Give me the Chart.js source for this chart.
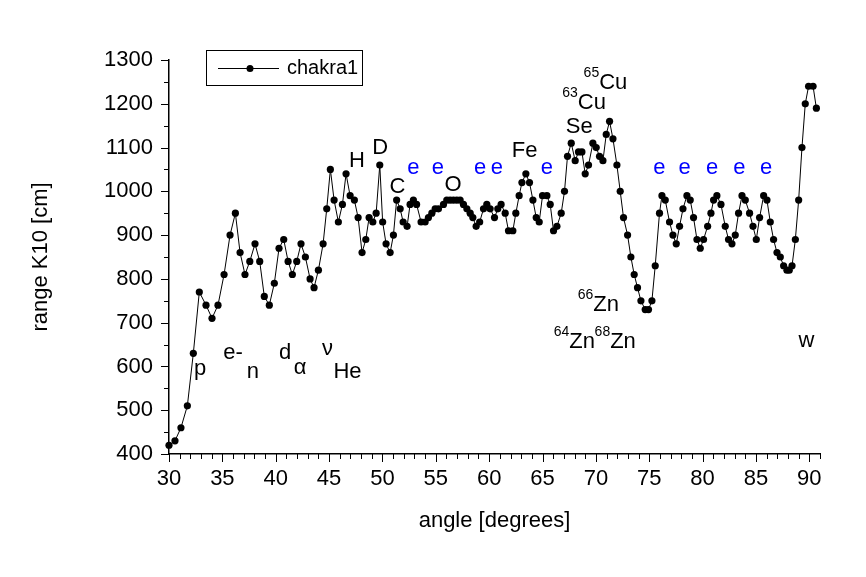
<!DOCTYPE html>
<html><head><meta charset="utf-8">
<script src="https://cdn.jsdelivr.net/npm/chart.js@4"></script>
<style>html,body{margin:0;padding:0;background:#fff}</style>
</head><body>
<canvas id="c" width="866" height="577"></canvas>
<script>
const angles = [
  30.00, 30.56, 31.12, 31.72, 32.28, 32.84, 33.47, 34.03, 34.59, 35.16,
  35.72, 36.22, 36.66, 37.12, 37.57, 38.06, 38.50, 38.93, 39.40, 39.87,
  40.31, 40.75, 41.16, 41.56, 41.97, 42.37, 42.78, 43.22, 43.59, 44.00,
  44.44, 44.78, 45.12, 45.47, 45.87, 46.25, 46.59, 46.97, 47.37, 47.72,
  48.09, 48.44, 48.75, 49.10, 49.41, 49.75, 50.02, 50.34, 50.72, 51.03,
  51.33, 51.66, 51.94, 52.31, 52.59, 52.90, 53.20, 53.62, 54.00, 54.31,
  54.63, 54.94, 55.25, 55.72, 56.03, 56.34, 56.65, 56.97, 57.28, 57.59,
  57.91, 58.22, 58.47, 58.78, 59.11, 59.47, 59.78, 60.09, 60.50, 60.81,
  61.12, 61.50, 61.81, 62.22, 62.50, 62.81, 63.07, 63.44, 63.78, 64.10,
  64.41, 64.69, 65.00, 65.41, 65.72, 66.03, 66.35, 66.75, 67.06, 67.34,
  67.69, 68.06, 68.37, 68.69, 69.00, 69.31, 69.72, 70.03, 70.34, 70.66,
  70.97, 71.28, 71.60, 71.97, 72.28, 72.59, 72.97, 73.28, 73.59, 73.90,
  74.22, 74.62, 74.93, 75.25, 75.56, 75.96, 76.19, 76.50, 76.90, 77.22,
  77.53, 77.84, 78.16, 78.53, 78.84, 79.15, 79.47, 79.78, 80.09, 80.47,
  80.78, 81.03, 81.34, 81.72, 82.12, 82.43, 82.75, 83.06, 83.37, 83.69,
  84.00, 84.40, 84.72, 85.03, 85.34, 85.72, 86.03, 86.34, 86.65, 86.97,
  87.28, 87.59, 87.90, 88.12, 88.38, 88.69, 89.00, 89.31, 89.62, 89.93,
  90.35, 90.66
];
const rangeK10 = [
  420, 430, 460, 510, 630, 770, 740, 710, 740, 810,
  900, 950, 860, 810, 840, 880, 840, 760, 740, 790,
  870, 890, 840, 810, 840, 880, 850, 800, 780, 820,
  880, 960, 1050, 980, 930, 970, 1040, 990, 980, 940,
  860, 890, 940, 930, 950, 1060, 930, 880, 860, 900,
  980, 960, 930, 920, 970, 980, 970, 930, 930, 940,
  950, 960, 960, 970, 980, 980, 980, 980, 980, 970,
  960, 950, 940, 920, 930, 960, 970, 960, 940, 960,
  970, 950, 910, 910, 950, 990, 1020, 1040, 1020, 980,
  940, 930, 990, 990, 970, 910, 920, 950, 1000, 1080,
  1110, 1070, 1090, 1090, 1040, 1060, 1110, 1100, 1080, 1070,
  1130, 1160, 1120, 1060, 1000, 940, 900, 850, 810, 780,
  750, 730, 730, 750, 830, 950, 990, 980, 930, 900,
  880, 920, 960, 990, 980, 940, 890, 870, 890, 920,
  950, 980, 990, 970, 920, 890, 880, 900, 950, 990,
  980, 950, 920, 890, 940, 990, 980, 930, 890, 860,
  850, 830, 820, 820, 830, 890, 980, 1100, 1200, 1240,
  1240, 1190
];
const seriesName = 'chakra1';
const xTickValues = [30, 35, 40, 45, 50, 55, 60, 65, 70, 75, 80, 85, 90];
const yTickValues = [400, 500, 600, 700, 800, 900, 1000, 1100, 1200, 1300];
const xTitle = 'angle [degrees]';
const yTitle = 'range K10 [cm]';
// text labels: anchored at (angle, value) in data coordinates
const blackLabels = [
  {text: 'p', angle: 32.91, value: 580},
  {text: 'e-', angle: 36.00, value: 616},
  {text: 'n', angle: 37.87, value: 574},
  {text: 'd', angle: 40.87, value: 616},
  {text: 'α', angle: 42.28, value: 582},
  {text: 'ν', angle: 44.86, value: 626},
  {text: 'He', angle: 46.73, value: 574},
  {text: 'H', angle: 47.62, value: 1055},
  {text: 'D', angle: 49.78, value: 1085},
  {text: 'C', angle: 51.40, value: 997},
  {text: 'O', angle: 56.62, value: 1001},
  {text: 'Fe', angle: 63.33, value: 1078},
  {text: 'Se', angle: 68.44, value: 1134},
  {text: 'w', angle: 89.72, value: 644}
];
const isotopeLabels = [
  {sup: '63', text: 'Cu', angle: 68.30, value: 1188},
  {sup: '65', text: 'Cu', angle: 70.31, value: 1233},
  {sup: '66', text: 'Zn', angle: 69.75, value: 727},
  {sup: '64', text: 'Zn', angle: 67.50, value: 642},
  {sup: '68', text: 'Zn', angle: 71.34, value: 642}
];
const electronMarks = [52.90, 55.19, 59.16, 60.72, 65.41, 75.94, 78.31, 80.88, 83.44, 85.94];
const electronValue = 1040;

const FONT = '"Liberation Sans", Arial, sans-serif';

const customDraw = {
  id: 'customDraw',
  afterDraw(chart) {
    const {ctx, chartArea} = chart;
    const xs = chart.scales.x, ys = chart.scales.y;
    ctx.save();
    ctx.strokeStyle = '#000';
    ctx.lineWidth = 1;
    // x ticks (major every 5, minor every 1)
    for (let v = xs.min; v <= xs.max; v++) {
      const px = Math.round(xs.getPixelForValue(v)) + 0.5;
      const len = (v % 5 === 0) ? 8 : 5;
      ctx.beginPath(); ctx.moveTo(px, chartArea.bottom); ctx.lineTo(px, chartArea.bottom + len); ctx.stroke();
    }
    for (let v = ys.min; v <= ys.max; v += 50) {
      const py = Math.round(ys.getPixelForValue(v)) + 0.5;
      const len = (v % 100 === 0) ? 8 : 5;
      ctx.beginPath(); ctx.moveTo(chartArea.left, py); ctx.lineTo(chartArea.left - len, py); ctx.stroke();
    }
    // labels
    ctx.textBaseline = 'alphabetic';
    ctx.fillStyle = '#000';
    ctx.font = '22px ' + FONT;
    ctx.textAlign = 'center';
    blackLabels.forEach(l => {
      ctx.fillText(l.text, xs.getPixelForValue(l.angle), ys.getPixelForValue(l.value));
    });
    isotopeLabels.forEach(l => {
      const px = xs.getPixelForValue(l.angle), py = ys.getPixelForValue(l.value);
      ctx.font = '22px ' + FONT; ctx.textAlign = 'left';
      ctx.fillText(l.text, px, py);
      ctx.font = '14px ' + FONT; ctx.textAlign = 'right';
      ctx.fillText(l.sup, px, py - 12);
    });
    ctx.fillStyle = '#0000ff';
    ctx.font = '22px ' + FONT; ctx.textAlign = 'center';
    electronMarks.forEach(a => {
      ctx.fillText('e', xs.getPixelForValue(a), ys.getPixelForValue(electronValue));
    });
    // legend
    ctx.font = '20px ' + FONT; ctx.textAlign = 'left'; ctx.textBaseline = 'middle';
    ctx.fillStyle = '#000';
    const lx = 206.5, ly = 50.5, lh = 35;
    const tx = 287;
    const midY = 68.5;
    const tw = ctx.measureText(seriesName).width;
    ctx.strokeRect(lx, ly, Math.round(tx + tw + 4 - lx), lh);
    ctx.beginPath(); ctx.moveTo(218, midY); ctx.lineTo(279, midY); ctx.stroke();
    ctx.beginPath(); ctx.arc(250, midY, 3.5, 0, Math.PI * 2); ctx.fill();
    ctx.fillText(seriesName, tx, midY);
    ctx.restore();
  }
};

new Chart(document.getElementById('c'), {
  type: 'line',
  data: {
    datasets: [{
      label: seriesName,
      data: angles.map((a, i) => ({x: a, y: rangeK10[i]})),
      borderColor: '#000',
      backgroundColor: '#000',
      borderWidth: 1,
      pointRadius: 3.6,
      pointBorderWidth: 0,
      pointBackgroundColor: '#000',
      tension: 0,
      clip: false
    }]
  },
  options: {
    responsive: false,
    animation: false,
    devicePixelRatio: 1,
    layout: {padding: {top: 60, left: 18, right: 46, bottom: 33}},
    plugins: {legend: {display: false}, tooltip: {enabled: false}},
    scales: {
      x: {
        type: 'linear', min: 30, max: 91,
        afterBuildTicks: s => { s.ticks = xTickValues.map(v => ({value: v})); },
        afterFit: s => { s.height = 90; },
        grid: {display: false, drawTicks: false},
        border: {display: true, color: '#000', width: 1.5},
        ticks: {color: '#000', font: {family: FONT, size: 22}, padding: 12, maxRotation: 0, autoSkip: false,
                callback: v => String(v)},
        title: {display: true, text: xTitle, color: '#000', font: {family: FONT, size: 22}, padding: {top: 0, bottom: 10}}
      },
      y: {
        type: 'linear', min: 400, max: 1300,
        afterBuildTicks: s => { s.ticks = yTickValues.map(v => ({value: v})); },
        afterFit: s => { s.width = 151; },
        grid: {display: false, drawTicks: false},
        border: {display: true, color: '#000', width: 1.5},
        ticks: {color: '#000', font: {family: FONT, size: 22}, padding: 16, autoSkip: false,
                callback: v => String(v)},
        title: {display: true, text: yTitle, color: '#000', font: {family: FONT, size: 22}, padding: {top: 10, bottom: 0}}
      }
    }
  },
  plugins: [customDraw]
});
</script>
</body></html>
